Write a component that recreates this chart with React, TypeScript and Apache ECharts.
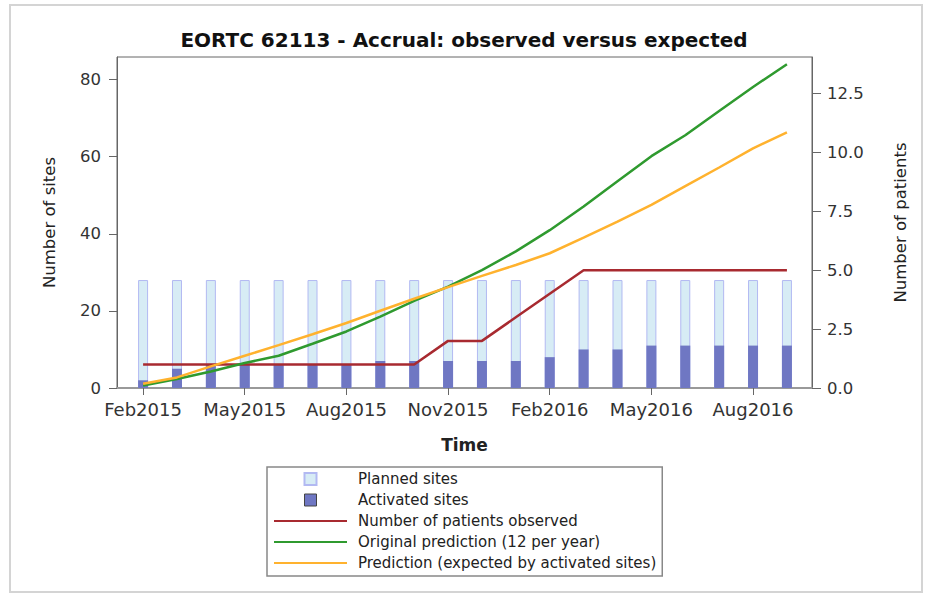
import React, { useEffect, useRef } from "react";
import * as echarts from "echarts";

const months = [
  "Feb2015", "Mar2015", "Apr2015", "May2015", "Jun2015", "Jul2015", "Aug2015",
  "Sep2015", "Oct2015", "Nov2015", "Dec2015", "Jan2016", "Feb2016", "Mar2016",
  "Apr2016", "May2016", "Jun2016", "Jul2016", "Aug2016", "Sep2016",
];
const plannedSites = [28, 28, 28, 28, 28, 28, 28, 28, 28, 28, 28, 28, 28, 28, 28, 28, 28, 28, 28, 28];
const activatedSites = [2, 5, 6, 6, 6, 6, 6, 7, 7, 7, 7, 7, 8, 10, 10, 11, 11, 11, 11, 11];
const patientsObserved = [1, 1, 1, 1, 1, 1, 1, 1, 1, 2, 2, 3, 4, 5, 5, 5, 5, 5, 5, 5];
const originalPrediction = [0.1, 0.38, 0.7, 1.06, 1.37, 1.88, 2.4, 3.03, 3.7, 4.3, 5.0, 5.8, 6.7, 7.7, 8.78, 9.84, 10.73, 11.76, 12.78, 13.74];
const expectedPrediction = [0.18, 0.45, 0.92, 1.37, 1.82, 2.28, 2.76, 3.28, 3.79, 4.28, 4.76, 5.22, 5.72, 6.38, 7.06, 7.77, 8.57, 9.36, 10.17, 10.85];
const xTickIndices = [0, 3, 6, 9, 12, 15, 18];
const leftTicks = { min: 0, max: 85.85, interval: 20 };
const rightTicks = { min: 0, max: 14.05, interval: 2.5 };

const FONT = "DejaVu Sans";
const SQUARE = "path://M0 0H10V10H0Z";

export default function App() {
  const ref = useRef<HTMLDivElement>(null);

  useEffect(() => {
    document.body.style.margin = "0";
    if (!ref.current) return;
    const chart = echarts.init(ref.current, undefined, { renderer: "svg" });
    const pairs = (arr: number[]) => arr.map((v, i) => [i, v]);
    const lineLegend = (name: string) => ({ name, icon: "inherit", itemStyle: { opacity: 0 } });

    chart.setOption({
      animation: false,
      backgroundColor: "#ffffff",
      title: {
        text: "EORTC 62113 - Accrual: observed versus expected",
        left: "center",
        top: 25,
        textStyle: { fontFamily: FONT, fontWeight: "bold", fontSize: 20, color: "#111" },
      },
      graphic: [
        {
          type: "rect",
          shape: { x: 10, y: 5, width: 912, height: 587 },
          style: { fill: "none", stroke: "#d4d4d4", lineWidth: 2 },
          silent: true,
        },
      ],
      grid: {
        left: 117,
        right: 116,
        top: 57,
        bottom: 209,
        show: true,
        borderColor: "#666",
        borderWidth: 1,
        backgroundColor: "transparent",
      },
      legend: {
        orient: "vertical",
        align: "left",
        left: 267,
        top: 467,
        padding: [4, 6, 5, 6],
        itemGap: 5,
        itemWidth: 73,
        itemHeight: 12,
        borderColor: "#888",
        borderWidth: 1.5,
        textStyle: { fontFamily: FONT, fontSize: 15, color: "#222", lineHeight: 16, padding: [0, 0, 0, 6] },
        data: [
          { name: "Planned sites", icon: SQUARE },
          { name: "Activated sites", icon: SQUARE, itemStyle: { borderColor: "#444", borderWidth: 1 } },
          lineLegend("Number of patients observed"),
          lineLegend("Original prediction (12 per year)"),
          lineLegend("Prediction (expected by activated sites)"),
        ],
      },
      xAxis: {
        type: "value",
        min: -0.77,
        max: 19.74,
        name: "Time",
        nameLocation: "middle",
        nameGap: 48,
        nameTextStyle: { fontFamily: FONT, fontWeight: "bold", fontSize: 17, color: "#222" },
        axisLine: { show: true, onZero: false, lineStyle: { color: "#999", width: 2 } },
        axisTick: { show: true, length: 7, customValues: xTickIndices, lineStyle: { color: "#666" } },
        axisLabel: {
          customValues: xTickIndices,
          formatter: (v: number) => months[Math.round(v)] ?? "",
          fontFamily: FONT,
          fontSize: 18,
          color: "#333",
          margin: 12,
        },
        splitLine: { show: false },
      },
      yAxis: [
        {
          type: "value",
          min: leftTicks.min,
          max: leftTicks.max,
          interval: leftTicks.interval,
          name: "Number of sites",
          nameLocation: "middle",
          nameGap: 59,
          nameTextStyle: { fontFamily: FONT, fontSize: 16.5, color: "#222" },
          axisLine: { show: true, onZero: false, lineStyle: { color: "#666" } },
          axisTick: { show: true, length: 8, lineStyle: { color: "#666" } },
          axisLabel: { fontFamily: FONT, fontSize: 16.5, color: "#333", margin: 16, showMaxLabel: false },
          splitLine: { show: false },
        },
        {
          type: "value",
          min: rightTicks.min,
          max: rightTicks.max,
          interval: rightTicks.interval,
          name: "Number of patients",
          nameLocation: "middle",
          nameGap: 80,
          nameTextStyle: { fontFamily: FONT, fontSize: 16.5, color: "#222" },
          axisLine: { show: true, onZero: false, lineStyle: { color: "#666" } },
          axisTick: { show: true, length: 9, lineStyle: { color: "#666" } },
          axisLabel: {
            fontFamily: FONT,
            fontSize: 16.5,
            color: "#333",
            margin: 15,
            showMaxLabel: false,
            formatter: (v: number) => v.toFixed(1),
          },
          splitLine: { show: false },
        },
      ],
      series: [
        {
          name: "Planned sites",
          type: "bar",
          yAxisIndex: 0,
          barWidth: 10,
          barGap: "-100%",
          itemStyle: { color: "#d7ecf5", borderColor: "#b2b9f2", borderWidth: 1 },
          data: pairs(plannedSites),
          z: 2,
        },
        {
          name: "Activated sites",
          type: "bar",
          yAxisIndex: 0,
          barWidth: 10,
          barGap: "-100%",
          itemStyle: { color: "#6f77c3" },
          data: pairs(activatedSites),
          z: 3,
        },
        {
          name: "Number of patients observed",
          type: "line",
          yAxisIndex: 1,
          symbol: "none",
          lineStyle: { color: "#a82a30", width: 2.5 },
          itemStyle: { color: "#a82a30" },
          data: pairs(patientsObserved),
          z: 5,
        },
        {
          name: "Original prediction (12 per year)",
          type: "line",
          yAxisIndex: 1,
          symbol: "none",
          lineStyle: { color: "#2f9a2f", width: 2.5 },
          itemStyle: { color: "#2f9a2f" },
          data: pairs(originalPrediction),
          z: 5,
        },
        {
          name: "Prediction (expected by activated sites)",
          type: "line",
          yAxisIndex: 1,
          symbol: "none",
          lineStyle: { color: "#ffb22e", width: 2.5 },
          itemStyle: { color: "#ffb22e" },
          data: pairs(expectedPrediction),
          z: 5,
        },
      ],
    });

    return () => chart.dispose();
  }, []);

  return <div ref={ref} style={{ width: 928, height: 597 }} />;
}
